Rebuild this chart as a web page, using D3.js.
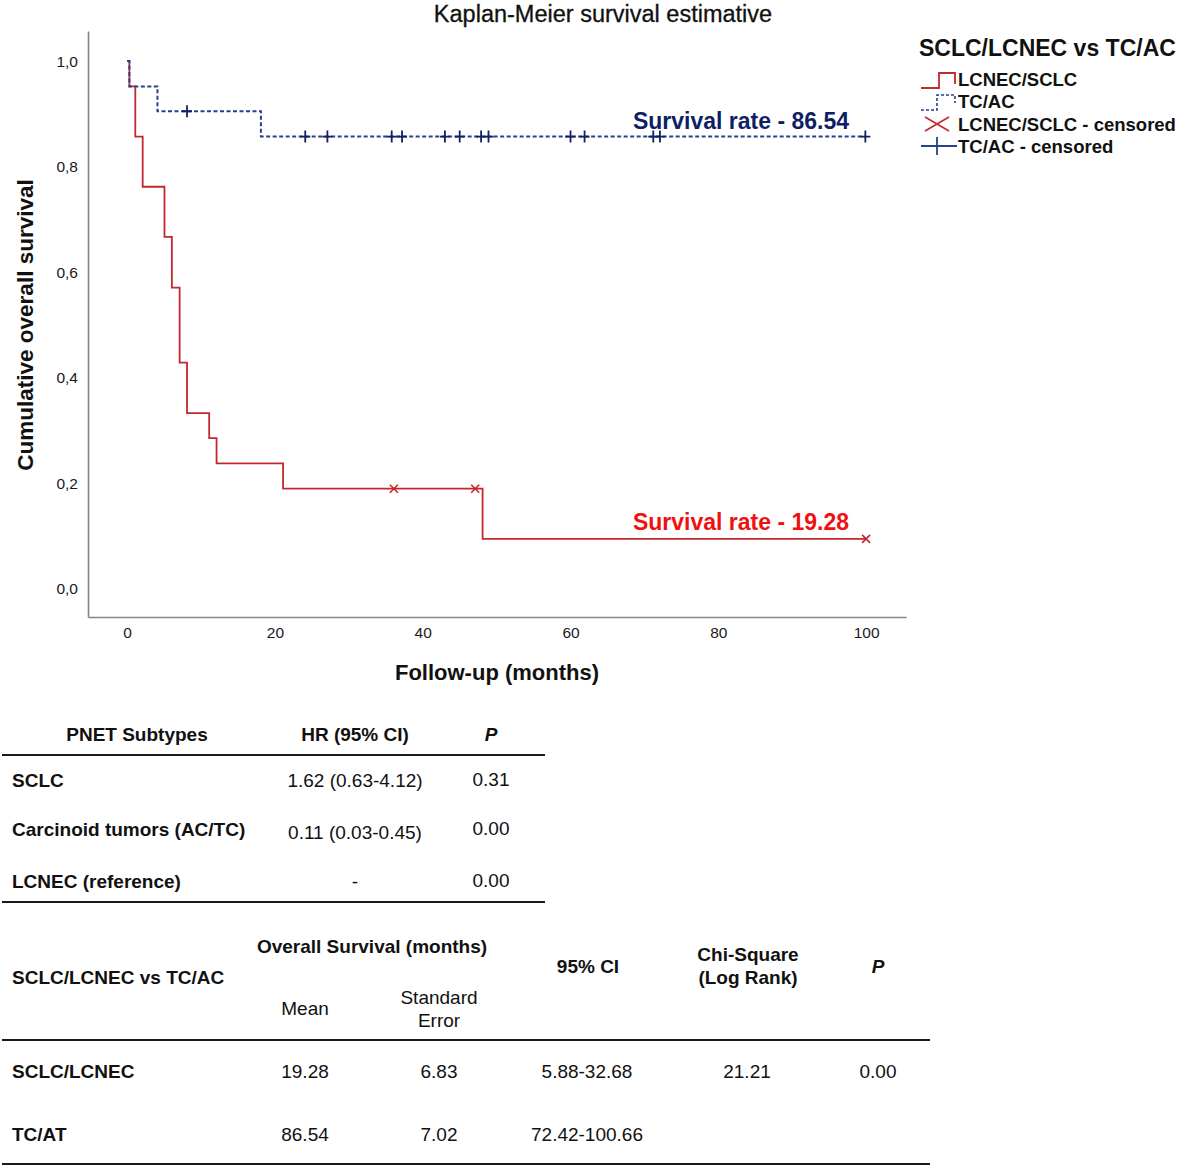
<!DOCTYPE html>
<html>
<head>
<meta charset="utf-8">
<script src="https://cdn.jsdelivr.net/npm/d3@7"></script>
<style>
  html, body { margin: 0; padding: 0; background: #fff; }
  svg { display: block; font-family: "Liberation Sans", Arial, sans-serif; }
</style>
</head>
<body>
<svg id="chart" width="1181" height="1167"></svg>
<script>
// ---------------- DATA ----------------
const xTicks = [0, 20, 40, 60, 80, 100];
const yTicks = [0, 0.2, 0.4, 0.6, 0.8, 1.0];

// LCNEC/SCLC step curve (time, survival) and censor times
const redTimes = [0, 0.3, 1.1, 2.1, 5.05, 6.05, 7.1, 8.1, 11.1, 12.1, 21.1, 48.1, 100];
const redSurv  = [1, 0.952, 0.857, 0.762, 0.667, 0.571, 0.429, 0.333, 0.286, 0.238, 0.190, 0.095, 0.095];
const redCensor = [36.1, 47.1, 100];

// TC/AC step curve and censor times
const blueTimes = [0, 0.3, 4.1, 18.1, 100];
const blueSurv  = [1, 0.952, 0.905, 0.857, 0.857];
const blueCensor = [8.1, 24.1, 27.1, 35.8, 37.2, 43.0, 45.0, 47.9, 48.9, 60.0, 61.9, 71.2, 72.1, 99.9];

const legendTitle = "SCLC/LCNEC vs TC/AC";
const legendLabels = ["LCNEC/SCLC", "TC/AC", "LCNEC/SCLC - censored", "TC/AC - censored"];
const annoLabels = ["Survival rate - 86.54", "Survival rate - 19.28"];

const t1Header = ["PNET Subtypes", "HR (95% CI)", "P"];
const t1Rows = [
  ["SCLC", "1.62 (0.63-4.12)", "0.31"],
  ["Carcinoid tumors (AC/TC)", "0.11 (0.03-0.45)", "0.00"],
  ["LCNEC (reference)", "-", "0.00"]
];
const t2Rows = [
  ["SCLC/LCNEC", "19.28", "6.83", "5.88-32.68", "21.21", "0.00"],
  ["TC/AT", "86.54", "7.02", "72.42-100.66", "", ""]
];

// ---------------- CHART ----------------
const svg = d3.select("#chart");
const RED = "#c3282e", BLUE = "#27408f", NAVY = "#102060";

const x = d3.scaleLinear().domain([-5.3, 105.4]).range([88, 906]);
const y = d3.scaleLinear().domain([-0.053, 1.057]).range([617, 31]);

// title
svg.append("text").attr("x", 603).attr("y", 22).attr("text-anchor", "middle")
  .attr("font-size", 23.5).attr("fill", "#111").attr("stroke", "#111").attr("stroke-width", 0.3)
  .text("Kaplan-Meier survival estimative");

// axes
const xAxis = svg.append("g").attr("transform", "translate(0,617)")
  .call(d3.axisBottom(x).tickValues(xTicks).tickSize(0).tickPadding(10).tickFormat(d3.format("d")));
const yAxis = svg.append("g").attr("transform", "translate(88,0)")
  .call(d3.axisLeft(y).tickValues(yTicks).tickSize(0).tickPadding(10)
    .tickFormat(d => d.toFixed(1).replace(".", ",")));
[xAxis, yAxis].forEach(g => {
  g.select(".domain").attr("stroke", "#858585").attr("stroke-width", 1.6);
  g.selectAll("text").attr("font-size", 15.5).attr("fill", "#1a1a1a")
    .attr("font-family", '"Liberation Sans", Arial, sans-serif');
});

svg.append("text").attr("x", 497).attr("y", 680).attr("text-anchor", "middle")
  .attr("font-size", 22).attr("font-weight", "bold").attr("fill", "#111").text("Follow-up (months)");
svg.append("text").attr("transform", "translate(33,325) rotate(-90)").attr("text-anchor", "middle")
  .attr("font-size", 22.5).attr("font-weight", "bold").attr("fill", "#111").text("Cumulative overall survival");

// step lines
const line = d3.line().curve(d3.curveStepAfter).x(d => x(d[0])).y(d => y(d[1]));
const bluePts = blueTimes.map((t, i) => [t, blueSurv[i]]);
const redPts = redTimes.map((t, i) => [t, redSurv[i]]);

svg.append("path").attr("d", line(redPts)).attr("fill", "none")
  .attr("stroke", RED).attr("stroke-width", 1.8);
svg.append("path").attr("d", line(bluePts)).attr("fill", "none")
  .attr("stroke", BLUE).attr("stroke-width", 2).attr("stroke-dasharray", "4,2.5");

function survAt(times, surv, t) {
  let v = surv[0];
  for (let i = 0; i < times.length; i++) if (times[i] <= t) v = surv[i];
  return v;
}
// censor marks
svg.append("g").selectAll("path").data(redCensor).join("path")
  .attr("transform", t => `translate(${x(t)},${y(survAt(redTimes, redSurv, t))})`)
  .attr("d", "M-4,-4L4,4M-4,4L4,-4").attr("stroke", RED).attr("stroke-width", 1.6);
svg.append("g").selectAll("path").data(blueCensor).join("path")
  .attr("transform", t => `translate(${x(t)},${y(survAt(blueTimes, blueSurv, t))})`)
  .attr("d", "M-5,0H5M0,-6V6").attr("stroke", NAVY).attr("stroke-width", 1.8);

// annotations
svg.append("text").attr("x", 849).attr("y", 129).attr("text-anchor", "end")
  .attr("font-size", 23).attr("font-weight", "bold").attr("fill", "#0f1f66").text(annoLabels[0]);
svg.append("text").attr("x", 849).attr("y", 530).attr("text-anchor", "end")
  .attr("font-size", 23).attr("font-weight", "bold").attr("fill", "#f01010").text(annoLabels[1]);

// legend
const lg = svg.append("g");
lg.append("text").attr("x", 919).attr("y", 56).attr("font-size", 23).attr("font-weight", "bold")
  .attr("fill", "#111").text(legendTitle);
const legY = [79, 101, 124, 146];
lg.selectAll("text.item").data(legendLabels).join("text").attr("class", "item")
  .attr("x", 958).attr("y", (d, i) => legY[i] + 6.5)
  .attr("font-size", 18.5).attr("font-weight", "bold").attr("fill", "#111").text(d => d);
lg.append("path").attr("d", "M921,88H939V73H955V84").attr("fill", "none").attr("stroke", RED).attr("stroke-width", 1.8);
lg.append("path").attr("d", "M921,110H937V95H955V103").attr("fill", "none").attr("stroke", BLUE)
  .attr("stroke-width", 1.6).attr("stroke-dasharray", "3,2");
lg.append("path").attr("d", "M925,117L949,131M925,131L949,117").attr("stroke", RED).attr("stroke-width", 1.6);
lg.append("path").attr("d", "M921,146H957M937,137V155").attr("stroke", BLUE).attr("stroke-width", 1.8);

// ---------------- TABLE 1 ----------------
const t1 = svg.append("g").attr("font-size", 19).attr("fill", "#111");
const t1Cols = [{x: 12, anchor: "start"}, {x: 355, anchor: "middle"}, {x: 491, anchor: "middle"}];
t1.append("text").attr("x", 137).attr("y", 741).attr("text-anchor", "middle").attr("font-weight", "bold").text(t1Header[0]);
t1.append("text").attr("x", 355).attr("y", 741).attr("text-anchor", "middle").attr("font-weight", "bold").text(t1Header[1]);
t1.append("text").attr("x", 491).attr("y", 741).attr("text-anchor", "middle").attr("font-weight", "bold")
  .attr("font-style", "italic").text(t1Header[2]);
const t1RowY = [787, 836, 888];
t1Rows.forEach((row, r) => {
  row.forEach((cell, c) => {
    t1.append("text").attr("x", t1Cols[c].x).attr("y", t1RowY[r] + (c === 1 && r === 1 ? 3 : 0) - (c === 2 ? 1 : 0))
      .attr("text-anchor", t1Cols[c].anchor).attr("font-weight", c === 0 ? "bold" : "normal").text(cell);
  });
});
t1.append("line").attr("x1", 2).attr("x2", 545).attr("y1", 755).attr("y2", 755).attr("stroke", "#1a1a1a").attr("stroke-width", 2);
t1.append("line").attr("x1", 2).attr("x2", 545).attr("y1", 902).attr("y2", 902).attr("stroke", "#1a1a1a").attr("stroke-width", 2);

// ---------------- TABLE 2 ----------------
const t2 = svg.append("g").attr("font-size", 19).attr("fill", "#111");
const hdr = [
  {t: "Overall Survival (months)", x: 372, y: 953, b: true},
  {t: "SCLC/LCNEC vs TC/AC", x: 12, y: 984, b: true, a: "start"},
  {t: "95% CI", x: 588, y: 973, b: true},
  {t: "Chi-Square", x: 748, y: 961, b: true},
  {t: "(Log Rank)", x: 748, y: 984, b: true},
  {t: "P", x: 878, y: 973, b: true, i: true},
  {t: "Mean", x: 305, y: 1015, b: false},
  {t: "Standard", x: 439, y: 1004, b: false},
  {t: "Error", x: 439, y: 1027, b: false}
];
hdr.forEach(h => {
  t2.append("text").attr("x", h.x).attr("y", h.y).attr("text-anchor", h.a || "middle")
    .attr("font-weight", h.b ? "bold" : "normal").attr("font-style", h.i ? "italic" : "normal").text(h.t);
});
const t2Cols = [{x: 12, a: "start"}, {x: 305, a: "middle"}, {x: 439, a: "middle"}, {x: 587, a: "middle"}, {x: 747, a: "middle"}, {x: 878, a: "middle"}];
const t2RowY = [1078, 1141];
t2Rows.forEach((row, r) => {
  row.forEach((cell, c) => {
    t2.append("text").attr("x", t2Cols[c].x).attr("y", t2RowY[r]).attr("text-anchor", t2Cols[c].a)
      .attr("font-weight", c === 0 ? "bold" : "normal").text(cell);
  });
});
t2.append("line").attr("x1", 2).attr("x2", 930).attr("y1", 1040).attr("y2", 1040).attr("stroke", "#1a1a1a").attr("stroke-width", 2);
t2.append("line").attr("x1", 2).attr("x2", 930).attr("y1", 1164).attr("y2", 1164).attr("stroke", "#1a1a1a").attr("stroke-width", 2);
</script>
</body>
</html>
